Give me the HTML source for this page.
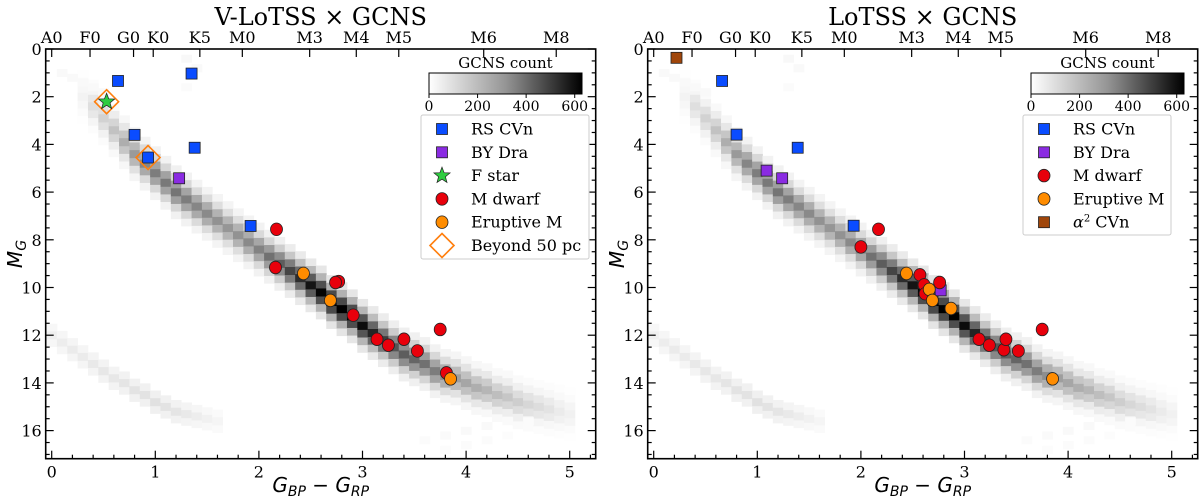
<!DOCTYPE html>
<html><head><meta charset="utf-8"><style>
body{margin:0;background:#fff}
svg text{font-family:"DejaVu Serif","Liberation Serif",serif;fill:#000}
.ax{font-family:"DejaVu Sans","Liberation Sans",sans-serif;font-style:italic}
</style></head><body>
<svg id="c" width="1200" height="499" viewBox="0 0 1200 499" xmlns="http://www.w3.org/2000/svg"></svg>
<script>
// ---- data ----
const msColors=[0.3,0.4,0.5,0.6,0.7,0.8,0.9,1.0,1.1,1.2,1.3,1.4,1.5,1.6,1.7,1.8,1.9,2.0,2.1,2.2,2.3,2.4,2.5,2.6,2.7,2.8,2.9,3.0,3.1,3.2,3.3,3.4,3.5,3.6,3.7,3.8,3.9,4.0,4.1,4.2,4.3,4.4,4.5,4.6,4.7,4.8,4.9,5.0];
const msMags=[2.0,2.4,2.9,3.4,3.9,4.4,4.8,5.2,5.6,6.0,6.3,6.6,6.9,7.2,7.5,7.8,8.1,8.4,8.7,9.0,9.3,9.6,9.9,10.2,10.6,10.9,11.2,11.6,11.9,12.2,12.5,12.8,13.0,13.2,13.5,13.7,13.8,14.0,14.2,14.3,14.5,14.6,14.8,14.9,15.0,15.1,15.2,15.3];
const msCounts=[30,80,110,150,200,250,300,320,330,340,320,300,290,270,260,270,290,310,350,400,460,520,580,620,640,640,630,600,540,480,420,400,380,350,320,280,240,220,200,180,160,140,120,100,85,70,50,35];
const wdColors=[0.0,0.1,0.2,0.3,0.4,0.5,0.6,0.7,0.8,0.9,1.0,1.1,1.2,1.3,1.4,1.5,1.6];
const wdMags=[12.0,12.3,12.6,12.9,13.2,13.5,13.8,14.0,14.3,14.5,14.8,15.0,15.2,15.3,15.4,15.5,15.6];
const wdCounts=[40,45,50,50,55,60,60,65,70,70,75,70,65,55,45,35,25];
const faintColors=[0.1,0.2,0.3,0.4,0.5,1.3,1.4,1.3,3.6,3.8,4.0,4.2,4.4,4.6,3.8,4.0,4.2,4.4];
const faintMags=[1.0,1.2,1.4,1.6,1.8,0.4,0.8,1.6,16.4,16.2,16.0,15.8,15.6,15.6,16.8,16.6,16.4,16.2];
const faintCounts=[15,15,15,15,15,18,15,10,10,12,14,14,12,10,8,10,10,8];

// left panel scatter
const L_rs_c=[0.64,1.35,0.80,0.93,1.38,1.92], L_rs_m=[1.34,1.03,3.60,4.55,4.14,7.42];
const L_by_c=[1.23], L_by_m=[5.42];
const L_f_c=[0.53], L_f_m=[2.21];
const L_md_c=[2.17,2.16,2.77,2.74,2.91,3.14,3.25,3.40,3.53,3.75,3.81], L_md_m=[7.56,9.16,9.75,9.79,11.16,12.17,12.42,12.17,12.66,11.76,13.58];
const L_em_c=[2.43,2.69,3.85], L_em_m=[9.41,10.54,13.83];
const L_far_c=[0.53,0.93], L_far_m=[2.21,4.55];
// right panel scatter
const R_rs_c=[0.66,0.80,1.39,1.93], R_rs_m=[1.34,3.59,4.14,7.41];
const R_by_c=[1.09,1.24,2.77], R_by_m=[5.10,5.42,10.12];
const R_md_c=[2.17,2.00,2.57,2.61,2.62,2.76,3.14,3.24,3.38,3.40,3.52,3.75], R_md_m=[7.56,8.30,9.47,9.89,10.26,9.79,12.17,12.42,12.61,12.17,12.66,11.76];
const R_em_c=[2.44,2.66,2.69,2.87,3.85], R_em_m=[9.41,10.08,10.54,10.88,13.83];
const R_a2_c=[0.22], R_a2_m=[0.37];

const specLabels=["A0","F0","G0","K0","K5","M0","M3","M4","M5","M6","M8"];
const specColors=[0.0,0.37,0.79,0.98,1.43,1.84,2.49,2.94,3.35,4.17,4.87];
const xTicks=[0,1,2,3,4,5];
const yTicks=[0,2,4,6,8,10,12,14,16];
const cbTicks=[0,200,400,600];

const NS="http://www.w3.org/2000/svg";
const svg=document.getElementById('c');
function mk(tag,attrs,parent){const e=document.createElementNS(NS,tag);for(const k in attrs)e.setAttribute(k,attrs[k]);(parent||svg).appendChild(e);return e;}
function gray(cnt){const v=Math.round(255*(1-Math.min(cnt,630)/630));return `rgb(${v},${v},${v})`;}

function panel(ox,title,series,legendItems,legH){
  const X0=45.7+ox,X1=595.7+ox,Y0=49,Y1=458.7;
  const sx=c=>51.7+ox+c*103.6, sy=m=>Y0+m*23.85;
  const g=mk('g',{});
  
  
  const clip='clip'+ox;
  const cp=mk('clipPath',{id:clip},g);mk('rect',{x:X0,y:Y0,width:X1-X0,height:Y1-Y0},cp);
  const hm=mk('g',{'clip-path':`url(#${clip})`},g);
  
  
  const bw=0.1,bh=0.32;
  function cell(c,m,cnt){
    const r=mk('rect',{x:sx(c-bw/2),y:sy(m-bh/2),width:103.6*bw+0.4,height:23.85*bh+0.4,fill:gray(cnt)},hm);
    
    
  }
  const wts=[[-3,0.1],[3,0.1],[-2,0.3],[2,0.3],[-1,0.7],[1,0.7],[0,1]];
  msColors.forEach((c,i)=>wts.forEach(([o,w])=>cell(c,msMags[i]+o*bh,msCounts[i]*w)));
  wdColors.forEach((c,i)=>[[-1,0.5],[1,0.5],[0,1]].forEach(([o,w])=>cell(c,wdMags[i]+o*bh,wdCounts[i]*w)));
  faintColors.forEach((c,i)=>cell(c,faintMags[i],faintCounts[i]));
  const fr=mk('rect',{x:X0,y:Y0,width:X1-X0,height:Y1-Y0,fill:'none',stroke:'#000','stroke-width':1.6},g);
  
  
  for(let k=0;k<=26;k++){const c=k*0.2;const x=sx(c);if(x>X1)break;const maj=Math.abs(c-Math.round(c))<1e-6;
    mk('line',{x1:x,x2:x,y1:Y1,y2:Y1-(maj?8:4),stroke:'#000','stroke-width':1.2},g);}
  xTicks.forEach(t=>{const e=mk('text',{x:sx(t),y:Y1+19,'font-size':16,'text-anchor':'middle'},g);e.textContent=t;
    });
  for(let k=0;k<=34;k++){const m=k*0.5;const y=sy(m);const maj=k%4==0;
    mk('line',{x1:X0,x2:X0+(maj?8:4),y1:y,y2:y,stroke:'#000','stroke-width':1.2},g);
    mk('line',{x1:X1,x2:X1-(maj?8:4),y1:y,y2:y,stroke:'#000','stroke-width':1.2},g);}
  yTicks.forEach(t=>{const e=mk('text',{x:X0-4,y:sy(t)+6,'font-size':16,'text-anchor':'end'},g);e.textContent=t;
    });
  specColors.forEach((c,i)=>{const x=sx(c);mk('line',{x1:x,x2:x,y1:Y0,y2:Y0+8,stroke:'#000','stroke-width':1.2},g);
    let ax=x;if(specLabels[i]=="G0")ax=x-5;if(specLabels[i]=="K0")ax=x+5;
    const e=mk('text',{x:ax,y:Y0-6,'font-size':16,'text-anchor':'middle'},g);e.textContent=specLabels[i];
    });
  const t=mk('text',{x:(X0+X1)/2,y:25,'font-size':24,'text-anchor':'middle'},g);t.textContent=title;
  
  const xl=mk('text',{x:(X0+X1)/2,y:492,'font-size':20,'text-anchor':'middle',class:'ax'},g);
  xl.innerHTML='G<tspan font-size="14" dy="4">BP</tspan><tspan dy="-4" font-style="normal"> − </tspan>G<tspan font-size="14" dy="4">RP</tspan>';
  
  const yl=mk('text',{x:0,y:0,'font-size':20,'text-anchor':'middle',class:'ax',transform:`translate(${ox+22},254) rotate(-90)`},g);
  yl.innerHTML='M<tspan font-size="14" dy="4">G</tspan>';
  
  function marker(type,x,y,par){
    let e;
    if(type=='sq'||type=='sqp'||type=='sqb'){const f={sq:'#0a4cff',sqp:'#8a2be2',sqb:'#a0460a'}[type];e=mk('rect',{x:x-5.5,y:y-5.5,width:11,height:11,fill:f,stroke:'#222','stroke-width':0.8},par);}
    else if(type=='red'||type=='org'){e=mk('ellipse',{cx:x,cy:y,rx:6,ry:6.3,fill:type=='red'?'#e8000b':'#ff8c00',stroke:'#222','stroke-width':0.8},par);}
    else if(type=='star'){let p='';for(let k=0;k<10;k++){const r=k%2?3.6:8.5,a=-Math.PI/2+k*Math.PI/5;p+=(x+r*Math.cos(a))+','+(y+r*Math.sin(a))+' ';}
      e=mk('polygon',{points:p,fill:'#2ecc40',stroke:'#222','stroke-width':0.7},par);}
    else if(type=='dia'){e=mk('polygon',{points:`${x},${y-12} ${x+12},${y} ${x},${y+12} ${x-12},${y}`,fill:'none',stroke:'#ff7f0e','stroke-width':1.6},par);}
    return e;
  }
  series.forEach(s=>{s.c.forEach((c,i)=>{const e=marker(s.type,sx(c),sy(s.m[i]),g);
    
    });});
  const lx=421+ox;
  const lg=mk('g',{},g);
  
  
  mk('rect',{x:lx,y:115,width:legendItems.w,height:legH,fill:'#fff',stroke:'#ccc','stroke-width':1,rx:2},lg);
  const gid='grad'+ox;const gr=mk('linearGradient',{id:gid,x1:0,x2:1,y1:0,y2:0},g);
  mk('stop',{offset:0,'stop-color':'#fff'},gr);mk('stop',{offset:0.5,'stop-color':'#959595'},gr);mk('stop',{offset:1,'stop-color':'#000'},gr);
  const cbx=429+ox,cbw=153;
  const cb=mk('rect',{x:cbx,y:73,width:cbw,height:21,fill:`url(#${gid})`,stroke:'#000','stroke-width':1},g);
  
  const ct=mk('text',{x:cbx+cbw/2,y:68,'font-size':15,'text-anchor':'middle'},g);ct.textContent='GCNS count';
  
  cbTicks.forEach(v=>{const x=cbx+v/630*cbw;mk('line',{x1:x,x2:x,y1:94,y2:98,stroke:'#000'},g);
    const e=mk('text',{x:x,y:111,'font-size':14,'text-anchor':'middle'},g);e.textContent=v;
    });
  legendItems.items.forEach((it,i)=>{const y=129+i*23.3;
    const m=marker(it.type,442+ox,y,lg);
    const e=mk('text',{x:471+ox,y:y+5.5,'font-size':16},lg);
    if(it.html)e.innerHTML=it.html;else e.textContent=it.label;
    });
}

panel(0,"V-LoTSS × GCNS",[
  {type:'sq',c:L_rs_c,m:L_rs_m,name:'rs-cvn'},
  {type:'sqp',c:L_by_c,m:L_by_m,name:'by-dra'},
  {type:'dia',c:L_far_c,m:L_far_m,name:'beyond-50pc'},
  {type:'star',c:L_f_c,m:L_f_m,name:'f-star'},
  {type:'red',c:L_md_c,m:L_md_m,name:'m-dwarf'},
  {type:'org',c:L_em_c,m:L_em_m,name:'eruptive-m'}
],{w:168,items:[{type:'sq',label:'RS CVn'},{type:'sqp',label:'BY Dra'},{type:'star',label:'F star'},{type:'red',label:'M dwarf'},{type:'org',label:'Eruptive M'},{type:'dia',label:'Beyond 50 pc'}]},144);

panel(602,"LoTSS × GCNS",[
  {type:'sq',c:R_rs_c,m:R_rs_m,name:'rs-cvn'},
  {type:'sqp',c:R_by_c,m:R_by_m,name:'by-dra'},
  {type:'sqb',c:R_a2_c,m:R_a2_m,name:'alpha2-cvn'},
  {type:'red',c:R_md_c,m:R_md_m,name:'m-dwarf'},
  {type:'org',c:R_em_c,m:R_em_m,name:'eruptive-m'}
],{w:148,items:[{type:'sq',label:'RS CVn'},{type:'sqp',label:'BY Dra'},{type:'red',label:'M dwarf'},{type:'org',label:'Eruptive M'},{type:'sqb',html:'<tspan font-style="italic">α</tspan><tspan font-size="10" dy="-6">2</tspan><tspan dy="6"> CVn</tspan>'}]},120);
</script>
</body></html>
